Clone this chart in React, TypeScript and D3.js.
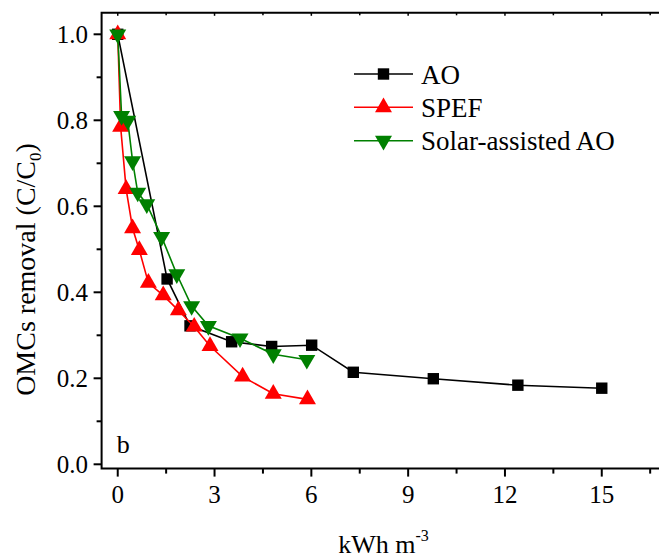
import React from "react";
import * as d3 from "d3";

const aoX = [0, 1.53, 2.24, 3.53, 4.77, 6.01, 7.3, 9.78, 12.4, 15.0];
const aoY = [1.0, 0.431, 0.322, 0.285, 0.274, 0.277, 0.214, 0.199, 0.184, 0.177];
const spefX = [0, 0.09, 0.26, 0.46, 0.67, 0.95, 1.41, 1.88, 2.37, 2.86, 3.87, 4.82, 5.88];
const spefY = [1.0, 0.785, 0.64, 0.549, 0.498, 0.422, 0.393, 0.358, 0.32, 0.275, 0.204, 0.164, 0.151];
const solarX = [0, 0.12, 0.31, 0.46, 0.62, 0.9, 1.36, 1.83, 2.29, 2.81, 3.79, 4.82, 5.86];
const solarY = [1.0, 0.81, 0.799, 0.705, 0.632, 0.605, 0.529, 0.442, 0.368, 0.322, 0.293, 0.256, 0.243];

const xTicks = [0, 3, 6, 9, 12, 15];
const xMinor = [1.5, 4.5, 7.5, 10.5, 13.5, 16.5];
const yTicks = [0.0, 0.2, 0.4, 0.6, 0.8, 1.0];
const yMinor = [0.1, 0.3, 0.5, 0.7, 0.9];

const seriesNames = ["AO", "SPEF", "Solar-assisted AO"];
const seriesColors = ["#000000", "#ff0000", "#008000"];

const FONT = "'Liberation Serif', 'Times New Roman', serif";

export default function App() {
  const W = 659, H = 559;
  const x = d3.scaleLinear().domain([-0.5, 17]).range([101.6, 666.3]);
  const y = d3.scaleLinear().domain([-0.01, 1.05]).range([468.6, 12.8]);
  const left = 101.6, top = 12.8, bottom = 468.6, right = 666.3;

  const line = d3.line<[number, number]>().x(d => x(d[0])).y(d => y(d[1]));
  const series = [
    { xs: aoX, ys: aoY },
    { xs: spefX, ys: spefY },
    { xs: solarX, ys: solarY },
  ];
  const sq = d3.symbol().type(d3.symbolSquare).size(130)()!;
  const tri = d3.symbol().type(d3.symbolTriangle).size(125)()!;
  const markerPath = (i: number) => (i === 0 ? sq : tri);
  const markerTransform = (i: number, px: number, py: number) =>
    i === 2 ? `translate(${px},${py}) rotate(180)` : `translate(${px},${py})`;

  const legendRows = [74, 107.3, 140.7];

  return (
    <svg width={W} height={H} style={{ display: "block", position: "absolute", left: 0, top: 0 }} fontFamily={FONT}>
      <rect width={W} height={H} fill="#fff" />
      {/* data */}
      {series.map((s, i) => {
        const pts = s.xs.map((v, j) => [v, s.ys[j]] as [number, number]);
        return (
          <g key={i}>
            <path d={line(pts)!} fill="none" stroke={seriesColors[i]} strokeWidth={1.6} />
            {pts.map((p, j) => (
              <path key={j} d={markerPath(i)} transform={markerTransform(i, x(p[0]), y(p[1]))} fill={seriesColors[i]} />
            ))}
          </g>
        );
      })}
      {/* frame */}
      <path d={`M${right},${top}H${left}V${bottom}H${right}`} fill="none" stroke="#000" strokeWidth={2} />
      {/* x ticks */}
      {xTicks.map(t => (
        <g key={"xt" + t}>
          <line x1={x(t)} x2={x(t)} y1={bottom} y2={bottom + 8} stroke="#000" strokeWidth={2} />
          <line x1={x(t)} x2={x(t)} y1={top} y2={top + 3} stroke="#000" strokeWidth={1.5} />
          <text x={x(t)} y={503} textAnchor="middle" fontSize={25}>{t}</text>
        </g>
      ))}
      {xMinor.map(t => (
        <g key={"xm" + t}>
          <line x1={x(t)} x2={x(t)} y1={bottom} y2={bottom + 5} stroke="#000" strokeWidth={2} />
          <line x1={x(t)} x2={x(t)} y1={top} y2={top + 2.5} stroke="#000" strokeWidth={1.5} />
        </g>
      ))}
      {/* y ticks */}
      {yTicks.map(t => (
        <g key={"yt" + t}>
          <line x1={left - 8} x2={left} y1={y(t)} y2={y(t)} stroke="#000" strokeWidth={2} />
          <text x={88} y={y(t) + 8.5} textAnchor="end" fontSize={25}>{t.toFixed(1)}</text>
        </g>
      ))}
      {yMinor.map(t => (
        <line key={"ym" + t} x1={left - 5} x2={left} y1={y(t)} y2={y(t)} stroke="#000" strokeWidth={2} />
      ))}
      {/* axis titles */}
      <text transform="translate(35,269.5) rotate(-90)" textAnchor="middle" fontSize={28}>
        OMCs removal (C/C<tspan fontSize={17} dy={6}>0</tspan><tspan dy={-6}>)</tspan>
      </text>
      <text x={383.5} y={553} textAnchor="middle" fontSize={26}>
        kWh m<tspan fontSize={16} dy={-12}>-3</tspan>
      </text>
      {/* panel label */}
      <text x={116.7} y={453} fontSize={26}>b</text>
      {/* legend */}
      {seriesNames.map((n, i) => (
        <g key={n}>
          <line x1={354} x2={413} y1={legendRows[i]} y2={legendRows[i]} stroke={seriesColors[i]} strokeWidth={1.6} />
          <path d={markerPath(i)} transform={markerTransform(i, 383.5, legendRows[i])} fill={seriesColors[i]} />
          <text x={421} y={legendRows[i] + 9.5} fontSize={27}>{n}</text>
        </g>
      ))}
    </svg>
  );
}
